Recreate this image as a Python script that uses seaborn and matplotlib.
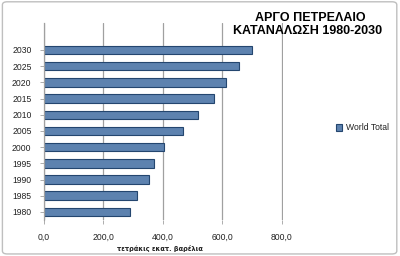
import matplotlib
matplotlib.use("Agg")
import matplotlib.pyplot as plt
import seaborn as sns
import pandas as pd
from matplotlib.patches import FancyBboxPatch
from matplotlib.ticker import FuncFormatter

years = ["2030", "2025", "2020", "2015", "2010", "2005", "2000", "1995", "1990", "1985", "1980"]
values = [700, 657, 613, 570, 518, 466, 403, 370, 353, 314, 288]
series_name = "World Total"
title_lines = ["ΑΡΓΟ ΠΕΤΡΕΛΑΙΟ", "ΚΑΤΑΝΑΛΩΣΗ 1980-2030"]
x_label = "τετράκις εκατ. βαρέλια"
x_ticks = [0, 200, 400, 600, 800]

df = pd.DataFrame({"year": years, "value": values, "series": series_name})

sns.set_theme(style="white")
plt.rcParams["font.family"] = ["Liberation Sans", "DejaVu Sans"]

fig = plt.figure(figsize=(4.0, 2.56), dpi=100)
fig.patch.set_facecolor("white")
ax = fig.add_axes([0.11, 0.1406, 0.597, 0.770])

sns.barplot(data=df, x="value", y="year", hue="series", order=years,
            palette=["#4F81BD"], edgecolor="#24466F", linewidth=0.8,
            width=0.52, orient="h", ax=ax, legend=True)

ax.set_xlim(0, 803)
ax.set_ylim(10.5, -1.67)
ax.set_xticks(x_ticks)
ax.xaxis.set_major_formatter(FuncFormatter(lambda v, p: f"{v:.1f}".replace(".", ",")))
ax.set_axisbelow(True)
ax.xaxis.grid(True, which="major", color="#A0A0A0", linewidth=0.9, linestyle="-")
ax.yaxis.grid(False)
for s in ["top", "right", "bottom"]:
    ax.spines[s].set_visible(False)
ax.spines["left"].set_color("#A0A0A0")
ax.spines["left"].set_linewidth(0.9)
ax.tick_params(axis="y", labelsize=6.2, length=3, width=0.6, color="#A0A0A0",
               pad=6, left=True, labelcolor="#222222")
ax.tick_params(axis="x", labelsize=6.2, length=3, width=0.6, color="#A0A0A0",
               pad=6, bottom=True, labelcolor="#222222")
ax.set_ylabel("")
ax.set_xlabel("")
fig.text(160 / 400, 1 - 248 / 256, x_label, ha="center", va="center",
         fontsize=4.8, fontweight="bold", color="#222222",
         family=["DejaVu Sans"])

leg = ax.legend(loc="center left", bbox_to_anchor=(332 / 400, 1 - 128 / 256),
                bbox_transform=fig.transFigure, frameon=False, fontsize=6.2,
                handlelength=0.7, handleheight=0.7, handletextpad=0.4,
                borderpad=0, labelcolor="#222222")

fig.text(310 / 400, 1 - 18 / 256, title_lines[0], ha="center", va="center",
         fontsize=9, fontweight="bold", color="black")
fig.text(308 / 400, 1 - 31 / 256, title_lines[1], ha="center", va="center",
         fontsize=9, fontweight="bold", color="black")

border = FancyBboxPatch((0.006, 0.008), 0.986, 0.985, boxstyle="round,pad=0,rounding_size=0.012",
                        transform=fig.transFigure, facecolor="none",
                        edgecolor="#BFBFBF", linewidth=1.0)
fig.patches.append(border)

fig.savefig("out.png", dpi=100)
